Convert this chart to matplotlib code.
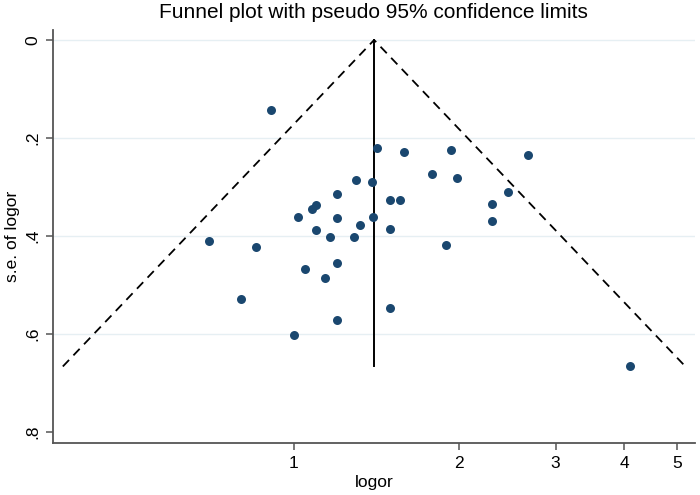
import numpy as np
import matplotlib.pyplot as plt

# 各研究的效应量 (OR) 和标准误
odds_ratio = [0.908, 0.701, 0.851, 0.799, 0.998, 1.019, 1.079, 1.097, 1.198,
              1.298, 1.388, 1.419, 1.198, 1.097, 1.161, 1.287, 1.317, 1.395,
              1.198, 1.049, 1.137, 1.198, 1.497, 1.588, 1.932, 2.676, 1.782,
              1.981, 1.497, 1.559, 2.455, 2.295, 2.295, 1.497, 1.896, 4.10]
se_logor = [0.144, 0.410, 0.422, 0.530, 0.603, 0.362, 0.346, 0.337, 0.314,
            0.287, 0.291, 0.220, 0.364, 0.388, 0.402, 0.402, 0.378, 0.362,
            0.455, 0.468, 0.486, 0.572, 0.548, 0.229, 0.225, 0.234, 0.274,
            0.282, 0.327, 0.326, 0.310, 0.335, 0.369, 0.386, 0.419, 0.666]

pooled_or = 1.40
se_max = 0.667

x_ticks = [1, 2, 3, 4, 5]
y_ticks = [0, 0.2, 0.4, 0.6, 0.8]
y_ticklabels = ["0", ".2", ".4", ".6", ".8"]

plt.rcParams['font.family'] = ['Liberation Sans', 'DejaVu Sans']

fig = plt.figure(figsize=(7, 4.95), dpi=100)
ax = fig.add_axes([0.0753, 0.1044, 0.9177, 0.8346])

# 伪95%置信限
c = np.log(pooled_or)
fx = np.exp([c - 1.96 * se_max, c, c + 1.96 * se_max])
fy = [se_max, 0, se_max]
ax.plot(fx, fy, color="black", linestyle=(0, (5, 3.5)), linewidth=1.3)
ax.plot([pooled_or, pooled_or], [0, se_max], color="black", linewidth=1.4)

# 网格线
for t in y_ticks[:-1]:
    ax.axhline(t, color="#e6eff3", linewidth=1.0, zorder=0)

ax.scatter(odds_ratio, se_logor, s=42, color="#1a476f", zorder=3, linewidths=0)

ax.set_xscale("log")
ax.set_xlim(0.363, 5.39)
ax.set_ylim(0.824, -0.02)
ax.set_xticks(x_ticks)
ax.set_xticklabels([str(t) for t in x_ticks])
ax.xaxis.set_minor_locator(plt.NullLocator())
ax.set_yticks(y_ticks)
ax.set_yticklabels(y_ticklabels, rotation=90, va="center")

for s in ["top", "right"]:
    ax.spines[s].set_visible(False)
for s in ["left", "bottom"]:
    ax.spines[s].set_color("#555555")
    ax.spines[s].set_linewidth(1.3)
ax.tick_params(axis="both", colors="#555555", length=5, width=1.1,
               labelcolor="black", labelsize=12.5, pad=4)

ax.set_xlabel("logor", fontsize=12.5, labelpad=3)
ax.set_ylabel("s.e. of logor", fontsize=12.5, labelpad=4)
ax.set_title("Funnel plot with pseudo 95% confidence limits", fontsize=15, pad=9)

plt.savefig("out.png", dpi=100)
plt.close()
